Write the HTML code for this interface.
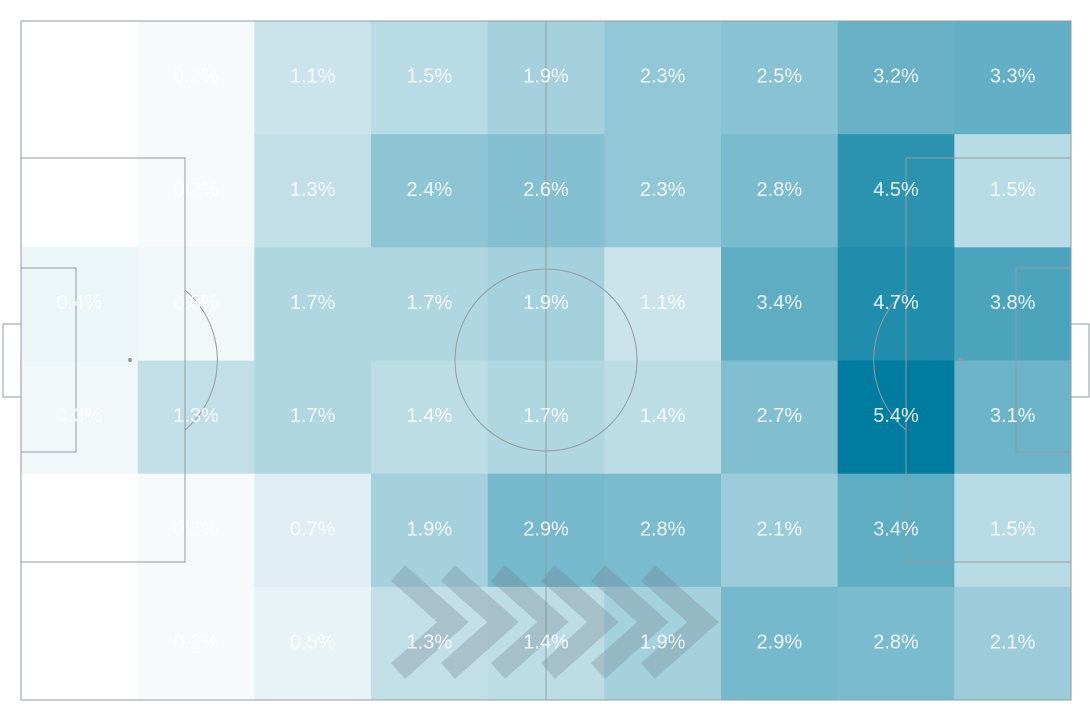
<!DOCTYPE html>
<html><head><meta charset="utf-8"><style>
html,body{margin:0;padding:0;background:#fff;}
svg{display:block;font-family:"Liberation Sans",sans-serif;}
</style></head><body>
<svg id="chart" width="1090" height="720" viewBox="0 0 1090 720" xmlns="http://www.w3.org/2000/svg">
<g id="cells"></g>
<g id="lines" fill="none" stroke="#929ca0" stroke-width="1">
<rect x="21" y="21" width="1050" height="679"/>
<line x1="546" y1="21" x2="546" y2="700"/>
<circle cx="546" cy="360" r="91"/>
<rect x="21" y="158" width="164" height="404"/>
<rect x="21" y="268" width="55" height="184"/>
<rect x="3" y="324" width="18" height="73"/>
<path d="M185 290 A92 92 0 0 1 185 430"/>
<rect x="906" y="158" width="165" height="404"/>
<rect x="1016" y="268" width="55" height="184"/>
<rect x="1071" y="324" width="18" height="73"/>
<path d="M906 290 A92 92 0 0 0 906 430"/>
<circle cx="130" cy="360" r="1.5" fill="#929ca0"/>
<circle cx="961" cy="360" r="1.5" fill="#929ca0"/>
</g>
<g id="arrows" fill="none" stroke="rgba(110,125,135,0.3)" stroke-width="21"></g>
<g id="labels" fill="#fff" fill-opacity="0.88" font-size="20" text-anchor="middle"></g>
</svg>
<script>
const rows = [0,1,2,3,4,5];
const cols = [0,1,2,3,4,5,6,7,8];
const row1 = [0,0.2,1.1,1.5,1.9,2.3,2.5,3.2,3.3];
const row2 = [0,0.2,1.3,2.4,2.6,2.3,2.8,4.5,1.5];
const row3 = [0.4,0.3,1.7,1.7,1.9,1.1,3.4,4.7,3.8];
const row4 = [0.3,1.3,1.7,1.4,1.7,1.4,2.7,5.4,3.1];
const row5 = [0,0.2,0.7,1.9,2.9,2.8,2.1,3.4,1.5];
const row6 = [0,0.2,0.5,1.3,1.4,1.9,2.9,2.8,2.1];
const grid = [row1,row2,row3,row4,row5,row6];
const maxVal = 5.4;
const X0=21,X1=1071,Y0=21,Y1=700;
const cw=(X1-X0)/cols.length, rh=(Y1-Y0)/rows.length;
const xPos=c=>X0+c*cw, yPos=r=>Y0+r*rh;
function color(v){const t=Math.min(1,v/maxVal);
 const r=Math.round(255+(0-255)*t),g=Math.round(255+(124-255)*t),b=Math.round(255+(160-255)*t);
 return `rgb(${r},${g},${b})`;}
const NS="http://www.w3.org/2000/svg";
const cg=document.getElementById('cells'),lg=document.getElementById('labels');
rows.forEach(r=>cols.forEach(c=>{
 const v=grid[r][c];
 const rect=document.createElementNS(NS,'rect');
 
 
 rect.setAttribute('x',xPos(c));rect.setAttribute('y',yPos(r));
 rect.setAttribute('width',cw+0.5);rect.setAttribute('height',rh+0.5);
 rect.setAttribute('fill',color(v));
 cg.appendChild(rect);
 if(v>0){
  const t=document.createElementNS(NS,'text');
  
  
  t.setAttribute('x',xPos(c)+cw/2);t.setAttribute('y',yPos(r)+rh/2+5);
  t.textContent=v.toFixed(1)+'%';
  lg.appendChild(t);
 }
}));
const ag=document.getElementById('arrows');
for(let i=0;i<6;i++){
 const x=398+i*50;
 const p=document.createElementNS(NS,'polyline');
 
 
 p.setAttribute('points',`${x},573 ${x+55},622 ${x},671`);
 ag.appendChild(p);
}
</script>
</body></html>
